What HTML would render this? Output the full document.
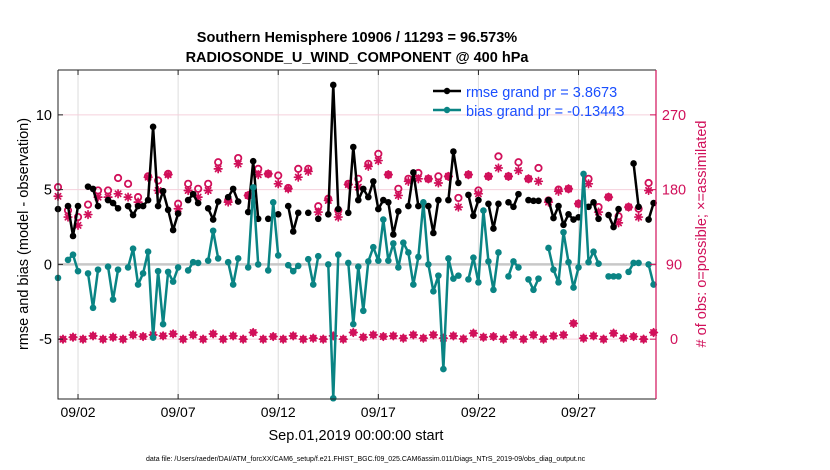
<!DOCTYPE html>
<html><head><meta charset="utf-8">
<style>
html,body{margin:0;padding:0;background:#fff;}
svg{display:block;font-family:"Liberation Sans",Arial,sans-serif;}
</style></head>
<body>
<svg id="chart" width="830" height="470" viewBox="0 0 830 470">
  <text x="357" y="42" text-anchor="middle" font-size="14.5" font-weight="bold">Southern Hemisphere 10906 / 11293 = 96.573%</text>
  <text x="357" y="62" text-anchor="middle" font-size="14.5" font-weight="bold">RADIOSONDE_U_WIND_COMPONENT @ 400 hPa</text>
  <g id="grid"></g>
  <g id="marks"></g>
  <g id="axes"></g>
  <text transform="translate(28,234) rotate(-90)" text-anchor="middle" font-size="14.5">rmse and bias (model - observation)</text>
  <text transform="translate(706,234) rotate(-90)" text-anchor="middle" font-size="14.5" fill="#d1105a"># of obs: o=possible; ×=assimilated</text>
  <text x="356" y="440" text-anchor="middle" font-size="14.5">Sep.01,2019 00:00:00 start</text>
  <text x="146" y="461" font-size="7">data file: /Users/raeder/DAI/ATM_forcXX/CAM6_setup/f.e21.FHIST_BGC.f09_025.CAM6assim.011/Diags_NTrS_2019-09/obs_diag_output.nc</text>
  <g id="legend">
    <line x1="433" y1="91" x2="461" y2="91" stroke="#000" stroke-width="2.5"/>
    <circle cx="447" cy="91" r="3.2" fill="#000"/>
    <text x="466" y="97" font-size="14.5" fill="#1a4fff">rmse grand pr = 3.8673</text>
    <line x1="433" y1="110" x2="461" y2="110" stroke="#0a8484" stroke-width="2.5"/>
    <circle cx="447" cy="110" r="3.2" fill="#0a8484"/>
    <text x="466" y="116" font-size="14.5" fill="#1a4fff">bias grand pr = -0.13443</text>
  </g>
</svg>
<script>
const rmseIdx = [0,2,3,4,6,7,8,10,11,12,14,15,16,17,18,19,20,21,22,23,24,26,27,28,30,31,32,34,35,36,38,39,40,42,44,46,47,48,50,52,54,55,56,58,59,60,61,62,63,64,65,66,67,68,70,71,72,74,75,76,78,79,80,82,83,84,86,87,88,90,91,92,94,95,96,98,99,100,101,102,103,104,106,107,108,110,111,112,115,116,118,119];
const rmseVal = [3.7,3.9,1.9,3.9,5.2,5.05,3.9,4.3,4.1,3.75,3.9,3.3,3.9,3.9,4.3,9.2,3.9,4.9,3.65,2.3,3.4,4.3,4.7,4.1,3.75,3.0,4.2,4.5,5.05,4.2,3.5,6.9,3.05,3.05,3.35,3.9,2.2,3.45,3.45,3.05,3.35,12.0,3.7,3.45,7.85,4.3,5.05,4.5,5.55,3.7,4.3,4.15,2.0,3.55,3.9,6.15,3.9,3.9,2.1,4.3,4.3,7.55,5.45,4.65,3.25,4.3,4.05,2.4,4.05,4.15,3.85,4.7,4.3,4.25,4.25,4.3,3.1,3.9,2.65,3.35,3.0,3.15,3.85,4.15,3.05,3.3,2.5,3.7,6.75,3.85,3.0,4.1];
const biasIdx = [0,2,3,4,6,7,8,10,11,12,14,15,16,17,18,19,20,21,22,23,24,26,27,28,30,31,32,34,35,36,38,39,40,42,43,44,46,47,48,50,51,52,54,55,56,58,59,60,61,62,63,64,65,66,67,68,69,70,71,72,73,74,75,76,77,78,79,80,82,83,84,85,86,87,88,90,91,92,94,95,96,98,99,100,101,102,103,104,105,106,107,108,110,111,112,114,115,116,118,119];
const biasVal = [-0.9,0.3,0.65,-0.45,-0.6,-2.9,-0.35,-0.15,-2.35,-0.35,-0.2,1.05,-1.35,-0.6,0.85,-4.9,-0.45,-4.0,-0.5,-1.15,-0.2,-0.4,0.15,0.1,0.25,2.25,0.4,0.15,-1.35,0.4,-0.2,5.15,0,-0.4,4.15,0.6,-0.05,-0.45,-0.1,0.35,-1.35,0.55,0,-8.95,0.65,0.1,-4.0,-0.15,-3.1,0.2,1.15,0.25,3.0,0.25,1.4,-0.2,1.45,0.8,-1.35,0.5,4.15,0,-1.8,-0.75,-7.0,0.4,-0.95,-0.75,-1.0,0.45,-1.2,3.6,0.2,-1.7,0.8,-0.8,0.2,-0.2,-1.0,-1.7,-0.95,1.1,-0.35,-1.2,2.15,0.15,-1.55,-0.2,6.05,0.15,0.85,0.05,-0.8,-0.8,-0.8,-0.5,0.1,0.1,0,-1.35];
const possUpper = [183,155,147,162,179,179,194,187,171,196,191,199,163,187,181,187,213,167,218,173,205,199,197,182,205,205,160,169,155,187,193,211,223,198,181,193,200,193,196,196,170,198,179,196,220,196,213,193,206,167,180,181,163,193,159,171,148,159,157,188];
const usedUpper = [172,147,137,150,171,171,175,171,165,195,179,198,157,179,171,179,205,165,211,173,198,199,187,181,195,202,153,167,147,186,183,208,215,198,173,190,193,193,188,196,159,198,175,196,206,196,203,193,190,165,178,181,163,187,153,171,140,159,147,179];
const countLower = [0,2.4,0,4,0,2.4,0,5.2,3.2,5.2,4,6.4,0,5.2,0,6.4,0,4,0,8,0,3.2,0,4,0,1.2,0,4,0,8,2.4,5.2,3.2,4,1.2,5.2,1.2,5.2,1.2,4,0.4,7.2,2.4,3.2,0,5.2,0,5.2,0,4,5.2,19,1.2,4,0,7.2,1.2,3.2,0,8];
const xTickDays = [1,6,11,16,21,26];
const xTickLabels = ["09/02","09/07","09/12","09/17","09/22","09/27"];
const yTicks = [-5,0,5,10];
const rTickLabels = ["0","90","180","270"];

const PL=58, PR=656, PT=70, PB=399;
const xMin=0, xMax=29.87, yMin=-9, yMax=13;
const sx = d => PL + (d-xMin)/(xMax-xMin)*(PR-PL);
const sy = v => PB - (v-yMin)/(yMax-yMin)*(PB-PT);
const sr = c => sy(c/18 - 5);
const tOf = i => i*0.25;
const NS="http://www.w3.org/2000/svg";
function mk(tag, attrs, parent){const e=document.createElementNS(NS,tag);for(const k in attrs)e.setAttribute(k,attrs[k]);parent.appendChild(e);return e;}
const gGrid=document.getElementById('grid'), gMarks=document.getElementById('marks'), gAxes=document.getElementById('axes');
const PINK="#d1105a", TEAL="#0a8484";

xTickDays.forEach(d=>{
  const g=mk('line',{x1:sx(d),x2:sx(d),y1:PT,y2:PB,stroke:'#dcdcdc','stroke-width':1},gGrid);
  
  
});
yTicks.forEach(v=>{
  if(v===0) return;
  const g=mk('line',{x1:PL,x2:PR,y1:sy(v),y2:sy(v),stroke:'#f5d0dc','stroke-width':1},gGrid);
  
  
});
const zl=mk('line',{x1:PL,x2:PR,y1:sy(0),y2:sy(0),stroke:'#c8c8c8','stroke-width':2.5},gGrid);



function drawSeries(idx, vals, color, name){
  let segs=[], cur=[];
  idx.forEach((i,k)=>{
    if(k>0 && i-idx[k-1]>1){ segs.push(cur); cur=[]; }
    cur.push([sx(tOf(i)), sy(vals[k])]);
  });
  segs.push(cur);
  segs.forEach(s=>{
    if(s.length>1){
      const p=mk('polyline',{points:s.map(q=>q.join(',')).join(' '),fill:'none',stroke:color,'stroke-width':2.5,'stroke-linejoin':'round'},gMarks);
      
      
    }
  });
  idx.forEach((i,k)=>{
    const c=mk('circle',{cx:sx(tOf(i)),cy:sy(vals[k]),r:3.3,fill:color},gMarks);
    
    
  });
}
function drawStar(x,y,name){
  const g=mk('g',{stroke:PINK,'stroke-width':1.7,'stroke-linecap':'round'},gMarks);
  
  
  const r=3.8;
  mk('line',{x1:x-r,y1:y,x2:x+r,y2:y},g);
  mk('line',{x1:x,y1:y-r,x2:x,y2:y+r},g);
  mk('line',{x1:x-r*0.7,y1:y-r*0.7,x2:x+r*0.7,y2:y+r*0.7},g);
  mk('line',{x1:x-r*0.7,y1:y+r*0.7,x2:x+r*0.7,y2:y-r*0.7},g);
}
function drawRing(x,y,name){
  const c=mk('circle',{cx:x,cy:y,r:3.2,fill:'none',stroke:PINK,'stroke-width':1.8},gMarks);
  
  
}
possUpper.forEach((v,k)=>drawRing(sx(tOf(2*k)),sr(v),'possible-obs-marker'));
usedUpper.forEach((v,k)=>drawStar(sx(tOf(2*k)),sr(v),'assimilated-obs-marker'));
countLower.forEach((v,k)=>{
  const x=sx(tOf(2*k+1)), y=sr(v);
  const d=mk('path',{d:`M${x-4.5},${y} L${x},${y-4.5} L${x+4.5},${y} L${x},${y+4.5} Z`,fill:PINK},gMarks);
  
  
  drawStar(x,y,'lower-assimilated-marker');
});
drawSeries(rmseIdx, rmseVal, '#000', 'rmse');
drawSeries(biasIdx, biasVal, TEAL, 'bias');

const fr=mk('path',{d:`M${PL},${PT} L${PL},${PB} L${PR},${PB}`,fill:'none',stroke:'#222','stroke-width':1},gAxes);


const topBorder=mk('line',{x1:PL,x2:PR,y1:PT,y2:PT,stroke:'#222','stroke-width':1},gAxes);


const ra=mk('line',{x1:PR,x2:PR,y1:PT,y2:PB,stroke:PINK,'stroke-width':1.2},gAxes);


xTickDays.forEach((d,k)=>{
  mk('line',{x1:sx(d),x2:sx(d),y1:PB,y2:PB-5,stroke:'#222'},gAxes);
  mk('line',{x1:sx(d),x2:sx(d),y1:PT,y2:PT+5,stroke:'#222'},gAxes);
  const t=mk('text',{x:sx(d),y:PB+18,'text-anchor':'middle','font-size':14},gAxes);
  t.textContent=xTickLabels[k];
  
  
});
yTicks.forEach(v=>{
  mk('line',{x1:PL,x2:PL+5,y1:sy(v),y2:sy(v),stroke:'#222'},gAxes);
  const t=mk('text',{x:PL-6,y:sy(v)+5,'text-anchor':'end','font-size':14.5},gAxes);
  t.textContent=String(v);
  
  
});
rTickLabels.forEach(s=>{
  const y=sr(Number(s));
  mk('line',{x1:PR-6,x2:PR,y1:y,y2:y,stroke:PINK},gAxes);
  const t=mk('text',{x:PR+18,y:y+5,'text-anchor':'middle','font-size':14.5,fill:PINK},gAxes);
  t.textContent=s;
  
  
});
</script>
</body></html>
